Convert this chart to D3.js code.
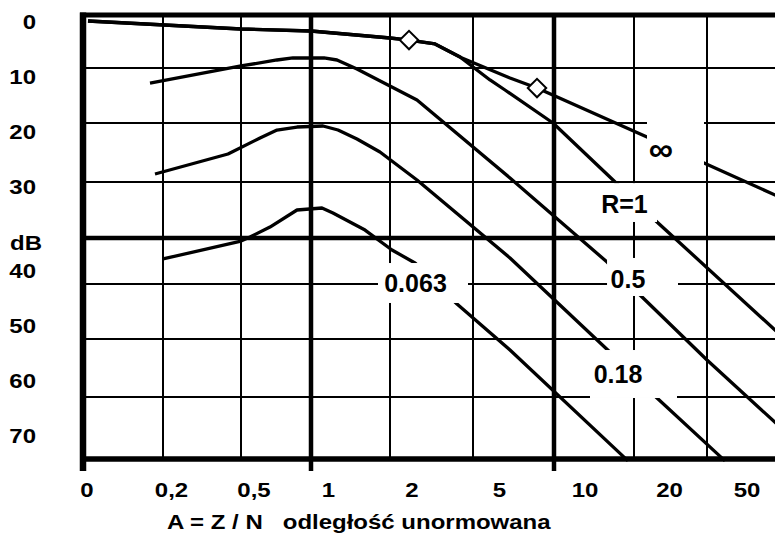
<!DOCTYPE html>
<html><head><meta charset="utf-8">
<script src="https://cdn.jsdelivr.net/npm/d3@7"></script>
<style>html,body{margin:0;padding:0;background:#fff;overflow:hidden}
text{font-family:"Liberation Sans",Arial,sans-serif;font-weight:bold;fill:#000}</style>
</head><body><svg id="c" width="775" height="534"></svg>
<script>
// ---- axis ticks ----
const xTicks = [0, 0.2, 0.5, 1, 2, 5, 10, 20, 50];
const xTickLabels = ["0", "0,2", "0,5", "1", "2", "5", "10", "20", "50"];
const xThin = [0.2, 0.5, 2, 5, 20, 50];
const xThick = [1, 10];
const yTicks = [0, 10, 20, 30, 40, 50, 60, 70];
const yThin = [10, 20, 30, 40, 50, 60];
const yThick = [35];
const xTitle = "A = Z / N   odległość unormowana";
const yTitle = "dB";

// ---- series (A, dB) ----
const seriesNames = ["∞", "R=1", "0.5", "0.18", "0.063"];
const A_inf  = [0.0125, 0.5, 1, 2, 2.687, 3.627, 4.602, 7.284, 8.951, 25.34, 48.77, 100];
const dB_inf = [1.13, 2.64, 3.02, 4.34, 4.72, 5.47, 8.11, 11.82, 13.64, 22.37, 26.78, 31.64];
const A_r1   = [0.0125, 0.5, 1, 2, 2.687, 3.627, 4.53, 6.049, 6.975, 9.938, 17.38, 29.45, 100];
const dB_r1  = [1.13, 2.64, 3.02, 4.34, 4.72, 5.47, 7.92, 12.18, 14.0, 20.0, 29.66, 33.57, 50.34];
const A_05   = [0.1675, 0.5, 0.757, 0.871, 1.165, 1.329, 1.582, 2.976, 7.284, 16.63, 22.47, 50, 100];
const dB_05  = [12.73, 9.62, 8.49, 8.11, 8.11, 8.49, 10.18, 15.82, 29.32, 37.61, 42.0, 53.62, 65.85];
const A_018  = [0.18, 0.45, 0.636, 0.757, 0.9, 1.152, 1.342, 1.582, 1.873, 2.976, 7.284, 17.38, 29.45, 61.25];
const dB_018 = [28.64, 25.25, 22.54, 21.19, 20.68, 20.51, 21.19, 22.71, 24.92, 29.66, 37.17, 52.76, 60.16, 70.3];
const A_0063 = [0.2, 0.5, 0.564, 0.707, 0.9, 1.139, 1.278, 1.684, 2.072, 2.904, 4.422, 7.284, 19.25];
const dB_0063= [37.28, 35.33, 34.91, 34.02, 32.5, 32.32, 32.77, 34.29, 36.3, 37.72, 43.64, 51.9, 70.3];
const markerA  = [2.687, 8.951];
const markerDB = [4.72, 13.64];

// ---- curve label anchors and masks (data units) ----
const labelA  = [31.0, 18.81, 19.25, 18.0, 2.922];
const labelDB = [24.41, 31.96, 39.46, 56.03, 39.89];
const maskA0  = [25.34, 15.75, 16.63, 14.5, 1.848];
const maskA1  = [48.77, 29.45, 38.08, 37.67, 4.819];
const maskDB0 = [19.27, 30.1, 37.17, 51.9, 37.72];
const maskDB1 = [27.46, 33.57, 42.18, 60.16, 43.45];

const W = 775, H = 534;
const svg = d3.select("#c");

const x = d3.scaleLinear()
  .domain([0, 0.2, 0.5, 1, 2, 5, 10, 20, 50, 100])
  .range([83, 163, 241, 311, 390, 473, 554, 634, 707, 787]);
const y = d3.scaleLinear()
  .domain([0, 10, 20, 30, 35, 40, 50, 60, 70])
  .range([15, 68, 123, 182, 238, 284, 339, 397, 459]);
const yLabel = d3.scaleLinear().domain([0, 30, 40, 70]).range([29, 194, 278, 443]);

const grid = svg.append("g").attr("stroke", "#000");
grid.selectAll(".vthin").data(xThin).join("line")
  .attr("x1", d => x(d)).attr("x2", d => x(d))
  .attr("y1", y(0)).attr("y2", y(70)).attr("stroke-width", 2);
grid.selectAll(".hthin").data(yThin).join("line")
  .attr("x1", x(0)).attr("x2", W)
  .attr("y1", d => y(d)).attr("y2", d => y(d)).attr("stroke-width", 2);
grid.selectAll(".hthick").data(yThick).join("line")
  .attr("x1", x(0)).attr("x2", W)
  .attr("y1", d => y(d)).attr("y2", d => y(d)).attr("stroke-width", 4.5);
grid.selectAll(".vthick").data(xThick).join("line")
  .attr("x1", d => x(d)).attr("x2", d => x(d))
  .attr("y1", y(0) - 2).attr("y2", y(70) + 12).attr("stroke-width", 4.5);
// frame
grid.append("line").attr("x1", x(0) - 3).attr("x2", W).attr("y1", y(0)).attr("y2", y(0)).attr("stroke-width", 5);
grid.append("line").attr("x1", x(0) - 3).attr("x2", W).attr("y1", y(70)).attr("y2", y(70)).attr("stroke-width", 5.5);
grid.append("line").attr("x1", x(0)).attr("x2", x(0)).attr("y1", y(0) - 2.5).attr("y2", y(70) + 12).attr("stroke-width", 6.5);

// curves
const series = [[A_inf, dB_inf], [A_r1, dB_r1], [A_05, dB_05], [A_018, dB_018], [A_0063, dB_0063]]
  .map(([a, b]) => a.map((v, i) => [v, b[i]]));
const line = d3.line().x(d => x(d[0])).y(d => y(d[1]));
svg.append("g").selectAll("path").data(series).join("path")
  .attr("d", line).attr("fill", "none").attr("stroke", "#000")
  .attr("stroke-width", 3.3).attr("stroke-linejoin", "round");

// diamond markers
const sym = d3.symbol().type(d3.symbolSquare).size(170);
svg.append("g").selectAll("path").data(markerA.map((a, i) => [a, markerDB[i]])).join("path")
  .attr("d", sym)
  .attr("transform", d => `translate(${x(d[0])},${y(d[1])}) rotate(45)`)
  .attr("fill", "#fff").attr("stroke", "#000").attr("stroke-width", 2);

// label masks
svg.append("g").selectAll("rect").data(seriesNames).join("rect")
  .attr("x", (d, i) => x(maskA0[i])).attr("width", (d, i) => x(maskA1[i]) - x(maskA0[i]))
  .attr("y", (d, i) => y(maskDB0[i])).attr("height", (d, i) => y(maskDB1[i]) - y(maskDB0[i]))
  .attr("fill", "#fff");

// curve labels
svg.append("g").selectAll("text").data(seriesNames).join("text")
  .attr("x", (d, i) => x(labelA[i])).attr("y", (d, i) => y(labelDB[i]))
  .attr("dy", "0.35em").attr("text-anchor", "middle")
  .style("font-size", d => d === "∞" ? "34px" : "25px")
  .text(d => d);

// x tick labels (stretched)
const sx = 1.2;
svg.append("g").selectAll("text").data(xTicks).join("text")
  .attr("transform", (d, i) => `translate(${x(d) + 4 + 4.5 * i},${y(70) + 38}) scale(${sx},1)`)
  .attr("text-anchor", "middle").style("font-size", "20px")
  .text((d, i) => xTickLabels[i]);

// y tick labels
svg.append("g").selectAll("text").data(yTicks).join("text")
  .attr("transform", d => `translate(36,${yLabel(d)}) scale(${sx},1)`)
  .attr("text-anchor", "end").style("font-size", "20px")
  .text(d => d);
svg.append("text").attr("transform", `translate(10,${y(35) + 12}) scale(${sx},1)`)
  .style("font-size", "20px").text(yTitle);

// x title
svg.append("text").attr("transform", `translate(167,${y(70) + 70}) scale(${sx},1)`)
  .style("font-size", "20px").style("white-space", "pre").text(xTitle);
</script></body></html>
